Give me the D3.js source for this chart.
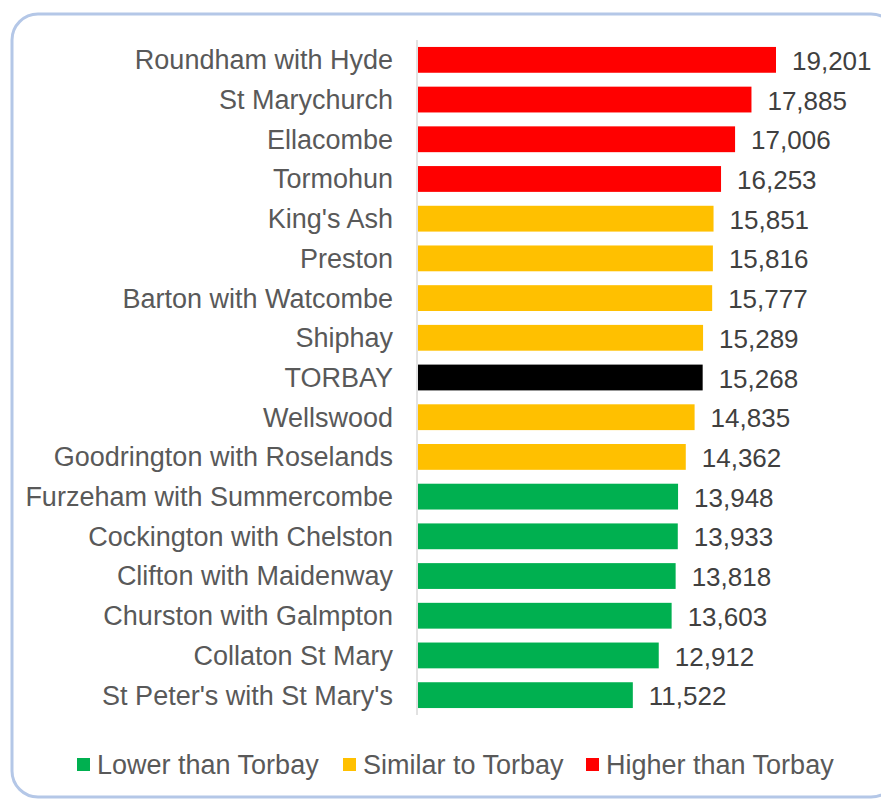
<!DOCTYPE html>
<html>
<head>
<meta charset="utf-8">
<script src="https://cdn.jsdelivr.net/npm/d3@7"></script>
<style>
  html, body { margin: 0; padding: 0; background: #fff; }
  svg { display: block; }
  text { font-family: "Liberation Sans", Arial, sans-serif; }
</style>
</head>
<body>
<svg id="chart" width="881" height="799"></svg>
<script>
// Ward values, top to bottom
const wards = [
  "Roundham with Hyde", "St Marychurch", "Ellacombe", "Tormohun", "King's Ash",
  "Preston", "Barton with Watcombe", "Shiphay", "TORBAY", "Wellswood",
  "Goodrington with Roselands", "Furzeham with Summercombe", "Cockington with Chelston",
  "Clifton with Maidenway", "Churston with Galmpton", "Collaton St Mary", "St Peter's with St Mary's"
];
const values = [
  19201, 17885, 17006, 16253, 15851,
  15816, 15777, 15289, 15268, 14835,
  14362, 13948, 13933,
  13818, 13603, 12912, 11522
];
// Comparison group for each ward: "higher", "similar", "lower", or "total"
const groups = [
  "higher", "higher", "higher", "higher", "similar",
  "similar", "similar", "similar", "total", "similar",
  "similar", "lower", "lower",
  "lower", "lower", "lower", "lower"
];
const legendKeys = ["lower", "similar", "higher"];
const legendLabels = ["Lower than Torbay", "Similar to Torbay", "Higher than Torbay"];

const color = d3.scaleOrdinal()
  .domain(["lower", "similar", "higher", "total"])
  .range(["#00B050", "#FFC000", "#FF0000", "#000000"]);

const svg = d3.select("#chart");
const FS_LABEL = 27;
const FS_VALUE = 26;

// Rounded chart-area border
svg.append("rect")
  .attr("x", 12).attr("y", 14)
  .attr("width", 885).attr("height", 783)
  .attr("rx", 26).attr("ry", 26)
  .attr("fill", "#fff")
  .attr("stroke", "#B4C7E7")
  .attr("stroke-width", 3);

const x = d3.scaleLinear().domain([0, 19201]).range([418, 776]);
const y = d3.scaleBand().domain(wards).range([40, 715]).paddingInner(0.35).paddingOuter(0.175);

const data = wards.map((w, i) => ({ ward: w, value: values[i], group: groups[i] }));

// Bars
svg.append("g").selectAll("rect")
  .data(data)
  .join("rect")
  .attr("x", x(0))
  .attr("y", d => y(d.ward))
  .attr("width", d => x(d.value) - x(0))
  .attr("height", y.bandwidth())
  .attr("fill", d => color(d.group));

// Category axis line
svg.append("line")
  .attr("x1", 417).attr("x2", 417)
  .attr("y1", 40).attr("y2", 715)
  .attr("stroke", "#D9D9D9")
  .attr("stroke-width", 1.5);

// Category labels
svg.append("g").selectAll("text")
  .data(data)
  .join("text")
  .attr("x", 393)
  .attr("y", d => y(d.ward) + y.bandwidth() / 2)
  .attr("dy", "0.35em")
  .attr("text-anchor", "end")
  .attr("font-size", FS_LABEL)
  .attr("fill", "#595959")
  .text(d => d.ward);

// Value labels
const fmt = d3.format(",");
svg.append("g").selectAll("text")
  .data(data)
  .join("text")
  .attr("x", d => x(d.value) + 16)
  .attr("y", d => y(d.ward) + y.bandwidth() / 2 + 1)
  .attr("dy", "0.35em")
  .attr("font-size", FS_VALUE)
  .attr("fill", "#404040")
  .text(d => fmt(d.value));

// Legend
const legendX = [77, 343, 586];
const legend = svg.append("g").selectAll("g")
  .data(legendKeys)
  .join("g")
  .attr("transform", (d, i) => `translate(${legendX[i]},765)`);
legend.append("rect")
  .attr("x", 0).attr("y", -7)
  .attr("width", 13).attr("height", 13)
  .attr("fill", d => color(d));
legend.append("text")
  .attr("x", 20)
  .attr("y", 0)
  .attr("dy", "0.35em")
  .attr("font-size", FS_LABEL)
  .attr("fill", "#595959")
  .text((d, i) => legendLabels[i]);
</script>
</body>
</html>
